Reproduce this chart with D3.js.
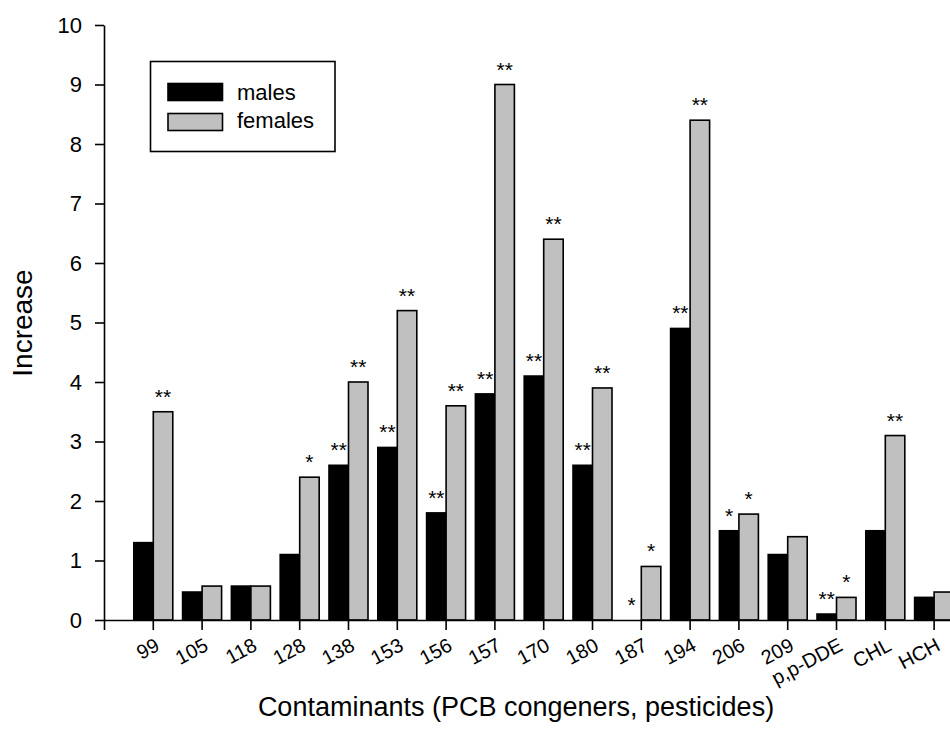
<!DOCTYPE html>
<html>
<head>
<meta charset="utf-8">
<script src="https://cdn.jsdelivr.net/npm/d3@7"></script>
<style>
  html, body { margin: 0; padding: 0; background: #fff; }
  svg { display: block; font-family: "Liberation Sans", Arial, Helvetica, sans-serif; }
</style>
</head>
<body>
<svg id="chart" width="950" height="734"></svg>
<script>
const categories = ["99", "105", "118", "128", "138", "153", "156", "157", "170", "180", "187", "194", "206", "209", "p,p-DDE", "CHL", "HCH"];
const males   = [1.3, 0.47, 0.57, 1.1, 2.6, 2.9, 1.8, 3.8, 4.1, 2.6, 0, 4.9, 1.5, 1.1, 0.1, 1.5, 0.38];
const females = [3.5, 0.57, 0.57, 2.4, 4.0, 5.2, 3.6, 9.0, 6.4, 3.9, 0.9, 8.4, 1.78, 1.4, 0.38, 3.1, 0.47];
const maleSig   = ["", "", "", "", "**", "**", "**", "**", "**", "**", "*", "**", "*", "", "**", "", ""];
const femaleSig = ["**", "", "", "*", "**", "**", "**", "**", "**", "**", "*", "**", "*", "", "*", "**", ""];
const yTicks = [0, 1, 2, 3, 4, 5, 6, 7, 8, 9, 10];
const seriesNames = ["males", "females"];
const seriesColors = ["#000000", "#c0c0c0"];

const svg = d3.select("#chart");
svg.append("rect").attr("width", 950).attr("height", 734).attr("fill", "#fff");

const x = d3.scaleBand().domain(categories).range([104, 983.4]).paddingInner(0).paddingOuter(0.51);
const sub = d3.scaleBand().domain(seriesNames).range([-19.5, 19.5]).padding(0);
const y = d3.scaleLinear().domain([0, 10]).range([620, 25]);

const data = categories.map((c, i) => ({
  cat: c,
  vals: [
    { s: "males", v: males[i], sig: maleSig[i], color: seriesColors[0] },
    { s: "females", v: females[i], sig: femaleSig[i], color: seriesColors[1] }
  ]
}));

// bars
const groups = svg.append("g").selectAll("g").data(data).join("g")
  .attr("transform", d => `translate(${x(d.cat) + x.bandwidth() / 2},0)`);

groups.selectAll("rect").data(d => d.vals.filter(v => v.v > 0)).join("rect")
  .attr("x", d => sub(d.s))
  .attr("width", sub.bandwidth())
  .attr("y", d => y(d.v))
  .attr("height", d => y(0) - y(d.v))
  .attr("fill", d => d.color)
  .attr("stroke", "#000")
  .attr("stroke-width", 1.6);

groups.selectAll("text.sig").data(d => d.vals.filter(v => v.sig)).join("text")
  .attr("class", "sig")
  .attr("x", d => sub(d.s) + sub.bandwidth() / 2)
  .attr("y", d => y(d.v) - 8)
  .attr("text-anchor", "middle")
  .attr("font-size", 21)
  .attr("fill", "#000")
  .text(d => d.sig);

// y axis
const yAxis = svg.append("g").attr("transform", "translate(104,0)")
  .call(d3.axisLeft(y).tickValues(yTicks).tickSize(9).tickSizeOuter(0).tickPadding(13).tickFormat(d3.format("d")));
yAxis.select(".domain").attr("stroke", "#000").attr("stroke-width", 1.6);
yAxis.selectAll(".tick line").attr("stroke", "#000").attr("stroke-width", 1.6);
yAxis.selectAll(".tick text").attr("font-size", 22).attr("fill", "#000")
  .attr("font-family", "Liberation Sans, Arial, sans-serif");

// x axis
const xAxis = svg.append("g").attr("transform", "translate(0,620)")
  .call(d3.axisBottom(x).tickSize(10).tickSizeOuter(10));
xAxis.select(".domain").attr("stroke", "#000").attr("stroke-width", 1.6);
xAxis.selectAll(".tick line").attr("stroke", "#000").attr("stroke-width", 1.6);
xAxis.selectAll(".tick text")
  .attr("font-size", 20)
  .attr("fill", "#000")
  .attr("font-family", "Liberation Sans, Arial, sans-serif")
  .attr("text-anchor", "end")
  .attr("x", 0).attr("y", 0).attr("dy", 0)
  .attr("transform", "translate(7.5,29.5) rotate(-28)");

// axis titles
svg.append("text")
  .attr("x", 516).attr("y", 716)
  .attr("text-anchor", "middle")
  .attr("font-size", 27)
  .attr("fill", "#000")
  .text("Contaminants (PCB congeners, pesticides)");

svg.append("text")
  .attr("transform", "translate(32,323) rotate(-90)")
  .attr("text-anchor", "middle")
  .attr("font-size", 28)
  .attr("fill", "#000")
  .text("Increase");

// legend
const legend = svg.append("g");
legend.append("rect").attr("x", 150.5).attr("y", 61.5).attr("width", 184.5).attr("height", 90)
  .attr("fill", "#fff").attr("stroke", "#000").attr("stroke-width", 1.6);
const legY = [83.5, 113.5];
const legBase = [100, 128];
seriesNames.forEach((s, i) => {
  legend.append("rect").attr("x", 168).attr("y", legY[i]).attr("width", 54.5).attr("height", 17)
    .attr("fill", seriesColors[i]).attr("stroke", "#000").attr("stroke-width", 1.6);
  legend.append("text").attr("x", 237).attr("y", legBase[i])
    .attr("font-size", 22).attr("fill", "#000").text(s);
});
</script>
</body>
</html>
